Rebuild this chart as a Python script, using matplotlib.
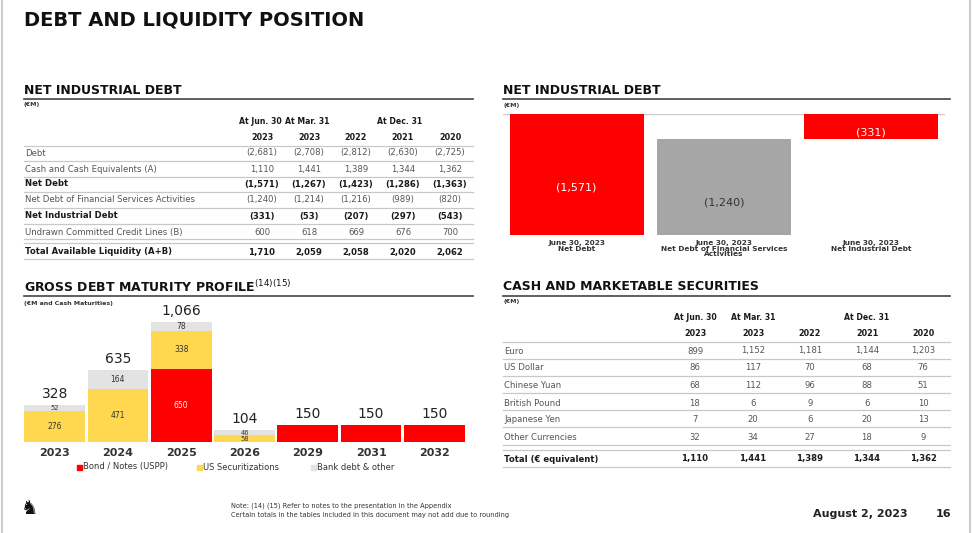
import matplotlib
matplotlib.use("Agg")
import matplotlib.pyplot as plt
from matplotlib.lines import Line2D
from matplotlib.patches import Rectangle

W, H, DPI = 972, 533, 100

# ---------------- data ----------------
nid_periods = ["At Jun. 30", "At Mar. 31", "At Dec. 31"]
nid_years = ["2023", "2023", "2022", "2021", "2020"]
nid_rows = ["Debt", "Cash and Cash Equivalents (A)", "Net Debt",
            "Net Debt of Financial Services Activities", "Net Industrial Debt",
            "Undrawn Committed Credit Lines (B)", "Total Available Liquidity (A+B)"]
debt = [-2681, -2708, -2812, -2630, -2725]
cash = [1110, 1441, 1389, 1344, 1362]
net_debt = [-1571, -1267, -1423, -1286, -1363]
nd_fs = [-1240, -1214, -1216, -989, -820]
net_ind_debt = [-331, -53, -207, -297, -543]
undrawn = [600, 618, 669, 676, 700]
total_liq = [1710, 2059, 2058, 2020, 2062]

bridge_labels = ["June 30, 2023\nNet Debt",
                 "June 30, 2023\nNet Debt of Financial Services\nActivities",
                 "June 30, 2023\nNet Industrial Debt"]
bridge_values = [-1571, -1240, -331]

mat_years = ["2023", "2024", "2025", "2026", "2029", "2031", "2032"]
bond_notes = [0, 0, 650, 0, 150, 150, 150]
us_sec = [276, 471, 338, 58, 0, 0, 0]
bank_other = [52, 164, 78, 46, 0, 0, 0]
mat_totals = [328, 635, 1066, 104, 150, 150, 150]
mat_legend = ["Bond / Notes (USPP)", "US Securitizations", "Bank debt & other"]

cash_periods = ["At Jun. 30", "At Mar. 31", "At Dec. 31"]
cash_years = ["2023", "2023", "2022", "2021", "2020"]
cash_rows = ["Euro", "US Dollar", "Chinese Yuan", "British Pound", "Japanese Yen",
             "Other Currencies", "Total (€ equivalent)"]
euro = [899, 1152, 1181, 1144, 1203]
usd = [86, 117, 70, 68, 76]
cny = [68, 112, 96, 88, 51]
gbp = [18, 6, 9, 6, 10]
jpy = [7, 20, 6, 20, 13]
other_ccy = [32, 34, 27, 18, 9]
total_ccy = [1110, 1441, 1389, 1344, 1362]

# ---------------- style ----------------
RED = "#FF0000"
YELLOW = "#FFD84F"
LGRAY = "#E3E3E3"
MGRAY = "#A6A6A6"
DARK = "#1a1a1a"
BODY = "#555555"
plt.rcParams['font.family'] = ['DejaVu Sans']

fig = plt.figure(figsize=(W / DPI, H / DPI), dpi=DPI)
fig.patch.set_facecolor("white")


def fx(x):
    return x / W


def fy(y):
    return 1 - y / H


def text(x, y, s, **kw):
    kw.setdefault("va", "center")
    kw.setdefault("color", DARK)
    fig.text(fx(x), fy(y), s, **kw)


def hline(x0, x1, y, color="#cccccc", lw=0.8):
    fig.add_artist(Line2D([fx(x0), fx(x1)], [fy(y), fy(y)], color=color, lw=lw,
                          transform=fig.transFigure))


def vline(x, y0, y1, color="#cccccc", lw=1.5):
    fig.add_artist(Line2D([fx(x), fx(x)], [fy(y0), fy(y1)], color=color, lw=lw,
                          transform=fig.transFigure))


def fmt(v):
    return f"({abs(v):,})" if v < 0 else f"{v:,}"


# page frame
vline(2, 0, H)
vline(970, 0, H)

# main title
text(24, 20, "DEBT AND LIQUIDITY POSITION", fontsize=14, fontweight="bold", color="#111111")


def draw_table(x0, x1, title_y, title, unit, periods, period_x, years, col_x,
               rows, data, bold, row_y, header_y, year_y, lines, dbl):
    text(x0, title_y, title, fontsize=9, fontweight="bold", color="#111111")
    hline(x0, x1, title_y + 8.5, color="#444444", lw=1.2)
    text(x0, title_y + 14.5, unit, fontsize=4.5, fontweight="bold", color="#333333")
    for p, px in zip(periods, period_x):
        text(px, header_y, p, fontsize=5.6, fontweight="bold", ha="center")
    for yr, cx in zip(years, col_x):
        text(cx, year_y, yr, fontsize=5.8, fontweight="bold", ha="center")
    for name, vals, b, y in zip(rows, data, bold, row_y):
        c = DARK if b else BODY
        w = "bold" if b else "normal"
        text(x0 + 1, y, name, fontsize=6.1, fontweight=w, color=c)
        for v, cx in zip(vals, col_x):
            text(cx, y, fmt(v), fontsize=6.1, fontweight=w, color=c, ha="center")
    for ly in lines:
        hline(x0, x1, ly, color="#c8c8c8", lw=0.9)
    hline(x0, x1, dbl, color="#c8c8c8", lw=0.9)


# ---- top-left table ----
draw_table(24, 473, 90, "NET INDUSTRIAL DEBT", "(€M)",
           nid_periods, [260, 307, 400], nid_years, [262, 309, 356, 403, 450],
           nid_rows, [debt, cash, net_debt, nd_fs, net_ind_debt, undrawn, total_liq],
           [False, False, True, False, True, False, True],
           [153, 169, 184, 200, 216, 232, 252], 122, 138,
           [146, 161, 177, 192, 208, 224, 239, 259], 243)

# ---- bottom-right table ----
draw_table(503, 950, 287, "CASH AND MARKETABLE SECURITIES", "(€M)",
           cash_periods, [695, 753, 867], cash_years, [695, 753, 810, 867, 923],
           cash_rows, [euro, usd, cny, gbp, jpy, other_ccy, total_ccy],
           [False] * 6 + [True],
           [351, 368, 386, 403, 420, 437, 459], 318, 334,
           [342, 359, 376, 393, 410, 427, 445, 467], 450)

# ---- top-right bridge chart ----
text(503, 90, "NET INDUSTRIAL DEBT", fontsize=9, fontweight="bold", color="#111111")
hline(503, 950, 98.5, color="#444444", lw=1.2)
text(503, 105, "(€M)", fontsize=4.5, fontweight="bold", color="#333333")

ax1 = fig.add_axes([fx(503), fy(235), (945 - 503) / W, (235 - 114) / H])
bottoms = [0, bridge_values[0], 0]
heights = [bridge_values[0], -bridge_values[1], bridge_values[2]]
colors1 = [RED, MGRAY, RED]
xs = list(range(len(bridge_values)))
ax1.bar(xs, heights, bottom=bottoms, width=0.91, color=colors1, zorder=2)
ax1.axhline(0, color="#cccccc", lw=1.0, zorder=1)
ax1.set_xlim(-0.5, 2.5)
ax1.set_ylim(bridge_values[0], 0)
lab_col = ["white", "#333333", "white"]
offs = [-9, -11, -4]
for i, v in enumerate(bridge_values):
    mid = bottoms[i] + heights[i] / 2
    ax1.annotate(fmt(v), (i, mid), xytext=(0, offs[i]), textcoords="offset points",
                 ha="center", va="center", fontsize=8, color=lab_col[i])
ax1.set_xticks(xs)
ax1.set_xticklabels(bridge_labels, fontsize=5.3, fontweight="bold", color="#333333",
                    linespacing=0.95)
ax1.tick_params(axis="x", length=0, pad=3.5)
ax1.set_yticks([])
for s in ax1.spines.values():
    s.set_visible(False)
ax1.patch.set_alpha(0)

# ---- bottom-left maturity chart ----
text(24, 287, r"GROSS DEBT MATURITY PROFILE$^{\mathrm{(14)(15)}}$", fontsize=9,
     fontweight="bold", color="#111111")
hline(24, 473, 296, color="#444444", lw=1.2)
text(24, 303, "(€M and Cash Maturities)", fontsize=4.5, fontweight="bold", color="#333333")

ax2 = fig.add_axes([fx(23), fy(442), (466 - 23) / W, (442 - 300) / H])
xm = list(range(len(mat_years)))
ax2.bar(xm, bond_notes, width=0.96, color=RED)
ax2.bar(xm, us_sec, bottom=bond_notes, width=0.96, color=YELLOW)
bot3 = [a + b for a, b in zip(bond_notes, us_sec)]
ax2.bar(xm, bank_other, bottom=bot3, width=0.96, color=LGRAY)
ax2.set_xlim(-0.5, len(mat_years) - 0.5)
ax2.set_ylim(0, 142 / 0.1126)
for i in xm:
    segs = [(bond_notes[i], 0, "white"), (us_sec[i], bond_notes[i], "#333333"),
            (bank_other[i], bot3[i], "#333333")]
    nz = sum(1 for s in segs if s[0] > 0)
    if nz > 1:
        for v, b, c in segs:
            if v > 0:
                ax2.text(i, b + v / 2, f"{v:,}", ha="center", va="center",
                         fontsize=5.5 if v > 60 else 4.8, color=c)
    ax2.annotate(f"{mat_totals[i]:,}", (i, bot3[i] + bank_other[i]), xytext=(0, 3),
                 textcoords="offset points", ha="center", va="bottom", fontsize=10,
                 color="#222222")
ax2.set_xticks(xm)
ax2.set_xticklabels(mat_years, fontsize=8, fontweight="bold", color="#333333")
ax2.tick_params(axis="x", length=0, pad=4)
ax2.set_yticks([])
for s in ax2.spines.values():
    s.set_visible(False)
ax2.patch.set_alpha(0)

# legend
leg_x = [77, 197, 311]
for lx, lab, c in zip(leg_x, mat_legend, [RED, YELLOW, LGRAY]):
    fig.add_artist(Rectangle((fx(lx), fy(469.5)), 4.5 / W, 4.5 / H, color=c,
                             transform=fig.transFigure))
    text(lx + 6, 467, lab, fontsize=6, color="#333333")

# ---- footer ----
text(30, 508, "\u265E", fontsize=14, ha="center", color="#111111")
text(231, 506, "Note: (14) (15) Refer to notes to the presentation in the Appendix",
     fontsize=4.8, color="#333333")
text(231, 515, "Certain totals in the tables included in this document may not add due to rounding",
     fontsize=4.8, color="#333333")
text(908, 514, "August 2, 2023", fontsize=8, fontweight="bold", ha="right", color="#222222")
text(943, 514, "16", fontsize=8, fontweight="bold", ha="center", color="#222222")

fig.savefig("out.png", dpi=DPI)
